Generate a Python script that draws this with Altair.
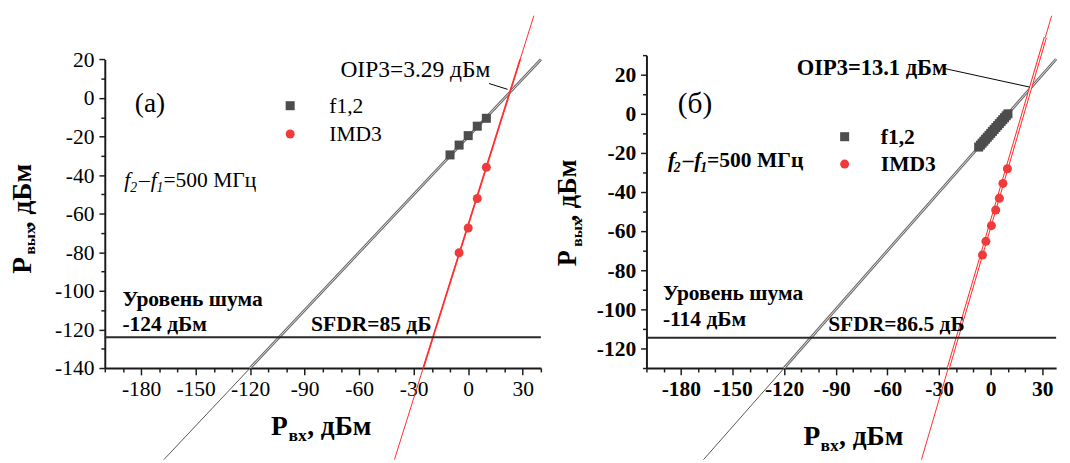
import altair as alt
import pandas as pd

FONT = "Liberation Serif"
GRAY = "#4d4d4d"
RED = "#ee3b3b"
SERIES = ["f1,2", "IMD3"]

# ---------------- panel (a) data ----------------
a_f_x = [-10, -5, 0, 5, 10]
a_f_y = [-29.5, -24.4, -19.5, -14.6, -10.5]
a_i_x = [-5, 0, 5, 10]
a_i_y = [-80.2, -67.4, -52.1, -35.9]
a_fund_long_x = [-167.5, 40]
a_fund_long_y = [-187.5, 20]
a_fund_in_x = [-120, 40]
a_fund_in_y = [-140, 20]
a_imd_long_x = [-40.6, 36.15]
a_imd_long_y = [-187.5, 42.66]
a_imd_in_x = [-24.7, 28.6]
a_imd_in_y = [-140, 20]
a_noise = [-124]

# ---------------- panel (б) data ----------------
b_f_x = [-7, -6, -5, -4, -3, -2, -1, 0, 1, 2, 3, 4, 5, 6, 7, 8, 9, 10]
b_f_y = [-17, -16, -15, -14, -13, -12, -11, -10, -9, -8, -7, -6, -5, -4, -3, -2, -1, 0]
b_i_x = [-4.8, -2.8, 0.4, 2.9, 5.0, 7.1, 9.7]
b_i_y = [-72.2, -65.2, -57.2, -49.2, -43.2, -35.6, -28.1]
b_fund_long_x = [-166.85, 38]
b_fund_long_y = [-176.85, 28]
b_fund_in_x = [-120, 38]
b_fund_in_y = [-130, 28]
b_imd_long_x = [-40.25, 35.4]
b_imd_long_y = [-176.85, 50.15]
b_imd_in_x = [-24.6, 31.7]
b_imd_in_y = [-130, 39]
b_noise = [-114.5]


def axis_x(bold):
    return alt.Axis(
        values=list(range(-200, 41, 10)) if not bold else list(range(-200, 31, 10)),
        labelExpr="datum.value % 30 === 0 ? '' + datum.value : ''",
        tickSize={"condition": {"test": "datum.value % 30 === 0", "value": 7}, "value": 4},
        labelPadding=4, labelFont=FONT, labelFontSize=22,
        labelFontWeight="bold" if bold else "normal", labelColor="black",
        domainColor="#1a1a1a", domainWidth=2, tickColor="#1a1a1a", tickWidth=1.5,
        grid=False, title=None, labelFlush=False, labelOverlap=False)


def axis_y(lo, hi, bold):
    return alt.Axis(
        values=list(range(lo, hi + 1, 10)),
        labelExpr="datum.value % 20 === 0 ? '' + datum.value : ''",
        tickSize={"condition": {"test": "datum.value % 20 === 0", "value": 6}, "value": 4},
        labelPadding=5, labelFont=FONT, labelFontSize=22,
        labelFontWeight="bold" if bold else "normal", labelColor="black",
        domainColor="#1a1a1a", domainWidth=2, tickColor="#1a1a1a", tickWidth=1.5,
        grid=False, title=None, labelFlush=False, labelOverlap=False)


def txt(s, x, y, size=22, weight="normal", style="normal", align="left",
        baseline="middle", angle=0):
    return alt.Chart(pd.DataFrame({"t": [s]})).mark_text(
        text=s, font=FONT, fontSize=size, fontWeight=weight, fontStyle=style,
        align=align, baseline=baseline, angle=angle, color="black"
    ).encode(x=alt.value(x), y=alt.value(y))


def panel(X, Y, W, fx, fy, ix, iy, fl, fi, il, ii, noise, legend, double_red, texts):
    def line(xs, ys, color, width):
        return alt.Chart(pd.DataFrame({"x": xs, "y": ys})).mark_line(
            color=color, strokeWidth=width, clip=False).encode(x=X, y=Y)

    layers = [
        line(fl[0], fl[1], "#555555", 1),
        line(il[0], il[1], "#ff2a2a", 1),
        line(fi[0], fi[1], "#6a6a6a", 2.8),
        line(fi[0], fi[1], "white", 0.8),
    ]
    if double_red:
        layers += [line(ii[0], ii[1], "#ff2a2a", 3.2), line(ii[0], ii[1], "white", 1.2)]
    else:
        layers += [line(ii[0], ii[1], "#ff3030", 1.8)]
    layers.append(
        alt.Chart(pd.DataFrame({"y": noise})).mark_rule(color="#2a2a2a", strokeWidth=2)
        .encode(y=Y, x=alt.value(0), x2=alt.value(W))
    )
    pts = pd.DataFrame({
        "x": fx + ix, "y": fy + iy,
        "series": ["f1,2"] * len(fx) + ["IMD3"] * len(ix),
    })
    layers.append(
        alt.Chart(pts).mark_point(filled=True, opacity=1, size=85).encode(
            x=X, y=Y,
            color=alt.Color("series:N", scale=alt.Scale(domain=SERIES, range=[GRAY, RED]), legend=legend),
            shape=alt.Shape("series:N", scale=alt.Scale(domain=SERIES, range=["square", "circle"]), legend=legend),
        )
    )
    layers += texts
    return alt.layer(*layers)


def legend(lx, ly, off, rowpad, bold):
    return alt.Legend(title=None, orient="none", legendX=lx, legendY=ly, padding=0,
                      labelFont=FONT, labelFontSize=22,
                      labelFontWeight="bold" if bold else "normal", labelColor="black",
                      symbolSize=85, labelOffset=off, rowPadding=rowpad, symbolStrokeWidth=0)


# ---------------- panel (a) ----------------
WA, HA = 446, 320
XA = alt.X("x:Q", scale=alt.Scale(domain=[-200, 40], nice=False, zero=False), axis=axis_x(False))
YA = alt.Y("y:Q", scale=alt.Scale(domain=[-140, 20], range=[HA, 4.4], nice=False, zero=False),
           axis=axis_y(-140, 20, False))
texts_a = [
    txt("(а)", 30.7, 50, size=28),
    txt("OIP3=3.29 дБм", 241, 15, size=24),
    alt.Chart(pd.DataFrame({"t": [0]})).mark_rule(color="black", strokeWidth=1).encode(
        x=alt.value(393), y=alt.value(29), x2=alt.value(412), y2=alt.value(35)),
    txt("f", 20, 135, style="italic", baseline="alphabetic"),
    txt("2", 26, 140, size=14, style="italic", baseline="alphabetic"),
    txt("–", 35, 135, baseline="alphabetic"),
    txt("f", 47, 135, style="italic", baseline="alphabetic"),
    txt("1", 53, 140, size=14, style="italic", baseline="alphabetic"),
    txt("=500 МГц", 60, 135, baseline="alphabetic"),
    txt("Уровень шума", 18, 249.4, weight="bold"),
    txt("-124 дБм", 18, 275, weight="bold"),
    txt("SFDR=85 дБ", 211, 275, weight="bold"),
    # axis titles
    txt("P", 170, 388.7, size=28, weight="bold", baseline="alphabetic"),
    txt("вх", 188, 394.7, size=18, weight="bold", baseline="alphabetic"),
    txt(", дБм", 207, 388.7, size=28, weight="bold", baseline="alphabetic"),
    txt("P", -75, 223.7, size=28, weight="bold", baseline="alphabetic", angle=270),
    txt("вых", -71, 204, size=16, weight="bold", baseline="alphabetic", angle=270),
    txt(", дБм", -75, 177, size=28, weight="bold", baseline="alphabetic", angle=270),
]
pa = panel(XA, YA, WA, a_f_x, a_f_y, a_i_x, a_i_y,
           (a_fund_long_x, a_fund_long_y), (a_fund_in_x, a_fund_in_y),
           (a_imd_long_x, a_imd_long_y), (a_imd_in_x, a_imd_in_y),
           a_noise, legend(178.6, 40.7, 29, 7, False), False, texts_a).properties(width=WA, height=HA)

# ---------------- panel (б) ----------------
WB, HB = 419, 320
XB = alt.X("x:Q", scale=alt.Scale(domain=[-200, 38], nice=False, zero=False), axis=axis_x(True))
YB = alt.Y("y:Q", scale=alt.Scale(domain=[-130, 30], nice=False, zero=False),
           axis=axis_y(-130, 30, True))
texts_b = [
    txt("(б)", 32, 49.7, size=30),
    txt("OIP3=13.1 дБм", 153.7, 13.7, size=23, weight="bold"),
    alt.Chart(pd.DataFrame({"t": [0]})).mark_rule(color="black", strokeWidth=1).encode(
        x=alt.value(305), y=alt.value(13.7), x2=alt.value(392), y2=alt.value(32.7)),
    txt("f", 22, 114, style="italic", weight="bold", baseline="alphabetic"),
    txt("2", 28, 119, size=14, style="italic", weight="bold", baseline="alphabetic"),
    txt("–", 37, 114, weight="bold", baseline="alphabetic"),
    txt("f", 49, 114, style="italic", weight="bold", baseline="alphabetic"),
    txt("1", 55, 119, size=14, style="italic", weight="bold", baseline="alphabetic"),
    txt("=500 МГц", 62, 114, weight="bold", baseline="alphabetic"),
    txt("Уровень шума", 16.8, 243.4, weight="bold"),
    txt("-114 дБм", 16.8, 270, weight="bold"),
    txt("SFDR=86.5 дБ", 185.8, 275, weight="bold"),
    txt("P", 160.5, 398.7, size=28, weight="bold", baseline="alphabetic"),
    txt("вх", 178, 405, size=18, weight="bold", baseline="alphabetic"),
    txt(", дБм", 197, 398.7, size=28, weight="bold", baseline="alphabetic"),
    txt("P", -72, 216, size=27, weight="bold", baseline="alphabetic", angle=270),
    txt("вых", -66, 196, size=16, weight="bold", baseline="alphabetic", angle=270),
    txt(", дБм", -72, 170, size=27, weight="bold", baseline="alphabetic", angle=270),
]
pb = panel(XB, YB, WB, b_f_x, b_f_y, b_i_x, b_i_y,
           (b_fund_long_x, b_fund_long_y), (b_fund_in_x, b_fund_in_y),
           (b_imd_long_x, b_imd_long_y), (b_imd_in_x, b_imd_in_y),
           b_noise, legend(191.7, 72.4, 26, 6, True), True, texts_b).properties(width=WB, height=HB)

chart = alt.hconcat(pa, pb, spacing=8).resolve_scale(
    color="independent", shape="independent", x="independent", y="independent"
).properties(padding={"left": 2, "top": 0, "right": 0, "bottom": 0}).configure_view(stroke=None)

chart.save("out.html", embed_options={"renderer": "svg", "actions": False})
